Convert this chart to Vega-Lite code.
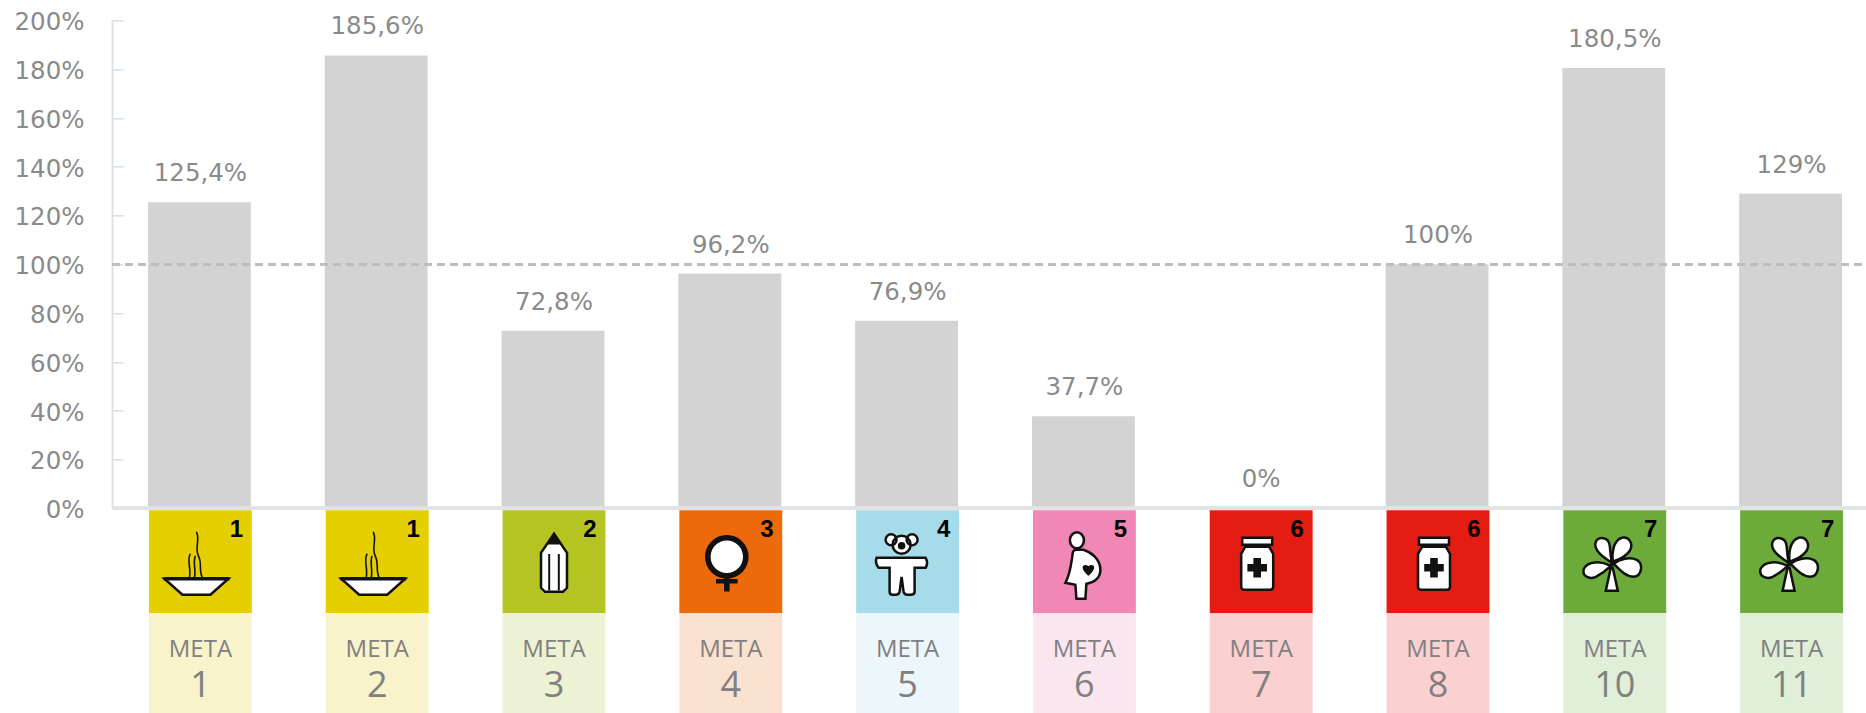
{
"$schema":"https://vega.github.io/schema/vega-lite/v6.json",
"padding":{"left":13,"top":9.3,"right":0,"bottom":0},
"background":"#ffffff",
"bounds":"flush",
"spacing":2,
"datasets":{"goals":[
{"meta":"1","value":125.4,"label":"125,4%","objective":"1","icon":"bowl"},
{"meta":"2","value":185.6,"label":"185,6%","objective":"1","icon":"bowl"},
{"meta":"3","value":72.8,"label":"72,8%","objective":"2","icon":"pencil"},
{"meta":"4","value":96.2,"label":"96,2%","objective":"3","icon":"female"},
{"meta":"5","value":76.9,"label":"76,9%","objective":"4","icon":"teddy"},
{"meta":"6","value":37.7,"label":"37,7%","objective":"5","icon":"pregnant"},
{"meta":"7","value":0,"label":"0%","objective":"6","icon":"bottle"},
{"meta":"8","value":100,"label":"100%","objective":"6","icon":"bottle"},
{"meta":"10","value":180.5,"label":"180,5%","objective":"7","icon":"clover"},
{"meta":"11","value":129,"label":"129%","objective":"7","icon":"clover"}
]},
"config":{"view":{"stroke":null},"legend":{"disable":true}},
"resolve":{"scale":{"color":"independent"}},
"vconcat":[
{"width":1754,"height":488,"data":{"name":"goals"},
"encoding":{"x":{"field":"meta","type":"nominal","sort":null,"axis":null,"scale":{"range":[0,1766],"paddingInner":0.418,"paddingOuter":0.2034}}},
"layer":[
{"mark":{"type":"bar","color":"#d3d3d3"},
"encoding":{"y":{"field":"value","type":"quantitative","scale":{"domain":[0,200]},
"axis":{"title":null,"grid":false,"values":[0,20,40,60,80,100,120,140,160,180,200],"labelExpr":"datum.value + '%'","labelFont":"DejaVu Sans","labelFontSize":24.5,"labelColor":"#8a8a8a","labelOffset":2.5,"labelPadding":39,"tickSize":-11,"tickColor":"#d6dfe8","tickWidth":1.5,"domainColor":"#dde2e8","domainWidth":2}}}},
{"mark":{"type":"rule","stroke":"#e3e3e3","strokeWidth":3},"encoding":{"y":{"datum":0,"type":"quantitative"},"x":{"value":0},"x2":{"value":1754}}},
{"mark":{"type":"rule","stroke":"#bdbdbd","strokeWidth":2.5,"strokeDash":[8,5]},"encoding":{"y":{"datum":100,"type":"quantitative"},"x":{"value":0},"x2":{"value":1754}}},
{"mark":{"type":"text","font":"DejaVu Sans","fontSize":24.5,"color":"#8a8a8a","baseline":"alphabetic","dy":-21,"dx":1},
"encoding":{"y":{"field":"value","type":"quantitative"},"text":{"field":"label"}}}
]},
{"bounds":"flush","spacing":0,"resolve":{"scale":{"color":"independent"}},"vconcat":[
{"width":1754,"height":103,"data":{"name":"goals"},
"encoding":{"x":{"field":"meta","type":"nominal","sort":null,"axis":null,"scale":{"range":[0,1766],"paddingInner":0.418,"paddingOuter":0.2034}}},
"layer":[
{"mark":{"type":"bar","xOffset":1},"encoding":{"color":{"field":"objective","type":"nominal","legend":null,"scale":{"domain":["1","2","3","4","5","6","7"],"range":["#e5cf00","#b5c422","#ec6a0a","#a6dbe9","#f087b5","#e41c12","#6cab3a"]}}}},
{"mark":{"type":"point","filled":true,"fill":"#ffffff","stroke":"#111111","strokeWidth":2.5,"opacity":1,"size":4,"xOffset":1},
"encoding":{"shape":{"field":"icon","type":"nominal","legend":null,"scale":{"domain":["bowl","pencil","female","teddy","pregnant","bottle","clover"],"range":[
"M-36 17 L28 17 L10 33 L-18 33 Z",
"M0 -28 L13 -9 L13 26 L9 30 L-9 30 L-13 26 L-13 -9 Z",
"M-23 -5 A19 19 0 1 1 15 -5 A19 19 0 1 1 -23 -5 Z",
"M-31 -4 L18 -4 Q21 1 18 6 L7 6 L7 30 Q7 33 3 33 L0 33 Q-3 33 -4 30 L-6 15 L-8 30 Q-9 33 -12 33 L-15 33 Q-18 33 -18 30 L-18 6 L-29 6 Q-33 1 -31 -4 Z M-15 -17 A9 9 0 1 1 3 -17 A9 9 0 1 1 -15 -17 Z M-22 -22 A5.5 5.5 0 1 1 -11 -22 A5.5 5.5 0 1 1 -22 -22 Z M-1 -22 A5.5 5.5 0 1 1 10 -22 A5.5 5.5 0 1 1 -1 -22 Z",
"M-9 -12 L-1 -12 C6 -10 16 -3 16 8 C16 16 10 21 2 22 L1 37 L-8 37 L-9 23 L-19 21 C-14 12 -13 0 -12 -6 Q-12 -11 -9 -12 Z M-14.5 -21.5 A7 8 0 1 1 -0.5 -21.5 A7 8 0 1 1 -14.5 -21.5 Z",
"M-16 -15 L8 -15 L12 -8 L12 25 Q12 28 9 28 L-17 28 Q-20 28 -20 25 L-20 -8 Z M-19 -24 L11 -24 L11 -17 L-19 -17 Z",
"M-3 1 C-12 -5 -22 -12 -19 -20 C-16 -26 -6 -25 -5 -16 C-4.5 -10 -4 -5 -3 1 Z M-2 0 C-3 -8 -2 -21 7 -24 C14 -26 19 -18 15 -11 C11 -5 4 -2 -2 0 Z M-4 4 C-14 -1 -27 -1 -31 7 C-33 14 -26 18 -19 15 C-13 12 -8 8 -4 4 Z M-1 2 C5 -3 15 -5 22 -2 C29 2 27 14 19 15 C11 15 5 8 -1 2 Z M-4 6 L-2 6 L3 29 L-9 29 Z"
]}}}},
{"mark":{"type":"point","filled":true,"fill":"#111111","stroke":"#111111","strokeWidth":1.6,"opacity":1,"size":4,"xOffset":1},
"encoding":{"shape":{"field":"icon","type":"nominal","legend":null,"scale":{"domain":["bowl","pencil","female","teddy","pregnant","bottle","clover"],"range":[
"M-36 16 L28 16 L28 18 L-36 18 Z M-4 -30 C0 -22 -6 -14 -2 -6 C2 2 -2 8 2 16 C-2 8 2 2 -2 -6 C-6 -14 0 -22 -4 -30 Z M-10 -8 C-14 -2 -9 6 -11 16 C-9 6 -14 -2 -10 -8 Z M-5 -6 C-8 0 -4 8 -6 16 C-4 8 -8 0 -5 -6 Z",
"M0 -28 L5 -18 L-5 -18 Z M-5 -7 L-4.6 -7 L-4.6 28 L-5 28 Z M5 -7 L4.6 -7 L4.6 28 L5 28 Z",
"M-25 -5 A21 21 0 1 1 17 -5 A21 21 0 1 1 -25 -5 Z M-21 -5 A17 17 0 1 0 13 -5 A17 17 0 1 0 -21 -5 Z M-6 15 L-2 15 L-2 18 L6 18 L6 21 L-2 21 L-2 29 L-6 29 L-6 21 L-14 21 L-14 18 L-6 18 Z",
"M-9 -16 A3 3 0 1 1 -3 -16 A3 3 0 1 1 -9 -16 Z",
"M4 13 C-2 8 -2 4 1 4 C3 4 4 6 4 6 C4 6 5 4 7 4 C10 4 10 8 4 13 Z",
"M-7 -3 L-1 -3 L-1 3 L5 3 L5 9 L-1 9 L-1 15 L-7 15 L-7 9 L-13 9 L-13 3 L-7 3 Z",
"M-4 2 A1.5 1.5 0 1 1 -1 2 A1.5 1.5 0 1 1 -4 2 Z"
]}}}},
{"mark":{"type":"text","font":"Liberation Sans","fontWeight":"bold","fontSize":24,"color":"#000000","baseline":"alphabetic","align":"center","dx":37,"dy":-25},
"encoding":{"text":{"field":"objective"}}}
],
"resolve":{"scale":{"shape":"independent"}}},
{"width":1754,"height":101,"data":{"name":"goals"},
"encoding":{"x":{"field":"meta","type":"nominal","sort":null,"axis":null,"scale":{"range":[0,1766],"paddingInner":0.418,"paddingOuter":0.2034}}},
"layer":[
{"mark":{"type":"bar","xOffset":1},"encoding":{"color":{"field":"objective","type":"nominal","legend":null,"scale":{"domain":["1","2","3","4","5","6","7"],"range":["#f9f3cc","#edf2d5","#fbe1cf","#edf6fa","#fbe5ef","#fad0d0","#e1eed8"]}}}},
{"mark":{"type":"text","font":"Open Sans","fontSize":24,"color":"#808080","baseline":"alphabetic","align":"center","dy":-7,"dx":1},"encoding":{"text":{"value":"META"}}},
{"mark":{"type":"text","font":"Open Sans","fontSize":36,"color":"#808080","baseline":"alphabetic","align":"center","dy":33,"dx":1},"encoding":{"text":{"field":"meta"}}}
]}
]}
]}
